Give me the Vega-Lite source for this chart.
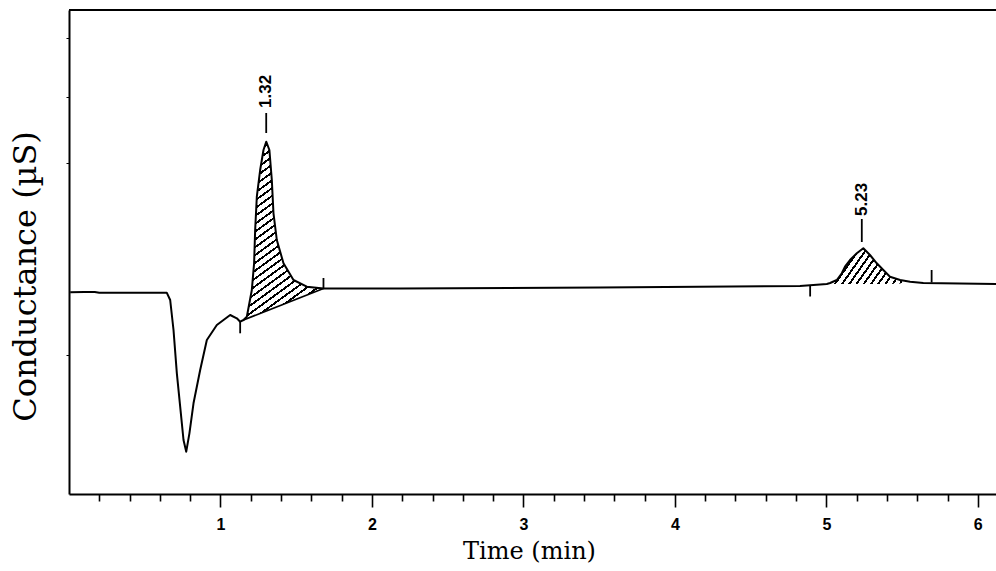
{
  "$schema": "https://vega.github.io/schema/vega-lite/v6.json",
  "width": 927,
  "height": 484,
  "autosize": "none",
  "padding": {"left": 69, "top": 10, "right": 0, "bottom": 77},
  "background": "white",
  "config": {"view": {"stroke": null}},
  "datasets": {
    "trace": [
      {"t": 0.008, "y": 20.17}, {"t": 0.10, "y": 20.2}, {"t": 0.17, "y": 20.2}, {"t": 0.20, "y": 20.12},
      {"t": 0.646, "y": 20.12}, {"t": 0.668, "y": 19.4}, {"t": 0.690, "y": 16.4}, {"t": 0.712, "y": 12.07},
      {"t": 0.734, "y": 8.73}, {"t": 0.756, "y": 5.4}, {"t": 0.774, "y": 4.23}, {"t": 0.795, "y": 6.07},
      {"t": 0.822, "y": 9.07}, {"t": 0.866, "y": 12.4}, {"t": 0.910, "y": 15.4}, {"t": 0.976, "y": 16.9},
      {"t": 1.064, "y": 17.9}, {"t": 1.108, "y": 17.57}, {"t": 1.130, "y": 17.23}, {"t": 1.152, "y": 17.4},
      {"t": 1.174, "y": 17.73}, {"t": 1.207, "y": 20.4}, {"t": 1.222, "y": 23.07}, {"t": 1.229, "y": 26.4},
      {"t": 1.240, "y": 29.73}, {"t": 1.262, "y": 32.4}, {"t": 1.284, "y": 34.4}, {"t": 1.302, "y": 35.23},
      {"t": 1.323, "y": 34.4}, {"t": 1.339, "y": 31.4}, {"t": 1.350, "y": 28.07}, {"t": 1.372, "y": 25.4},
      {"t": 1.416, "y": 23.07}, {"t": 1.482, "y": 21.4}, {"t": 1.570, "y": 20.73}, {"t": 1.680, "y": 20.55},
      {"t": 2.186, "y": 20.55}, {"t": 3.506, "y": 20.65}, {"t": 4.826, "y": 20.8}, {"t": 5.003, "y": 21.0},
      {"t": 5.025, "y": 21.1}, {"t": 5.069, "y": 21.4}, {"t": 5.102, "y": 22.07}, {"t": 5.123, "y": 22.73},
      {"t": 5.156, "y": 23.4}, {"t": 5.201, "y": 24.07}, {"t": 5.244, "y": 24.57}, {"t": 5.288, "y": 23.9},
      {"t": 5.333, "y": 23.07}, {"t": 5.376, "y": 22.4}, {"t": 5.420, "y": 21.73}, {"t": 5.487, "y": 21.4},
      {"t": 5.553, "y": 21.23}, {"t": 5.640, "y": 21.1}, {"t": 6.12, "y": 21.0}
    ],
    "peak1": [
      {"t": 1.152, "y": 17.4, "base": 17.4}, {"t": 1.174, "y": 17.73, "base": 17.53},
      {"t": 1.207, "y": 20.4, "base": 17.73}, {"t": 1.222, "y": 23.07, "base": 17.82},
      {"t": 1.229, "y": 26.4, "base": 17.86}, {"t": 1.240, "y": 29.73, "base": 17.93},
      {"t": 1.262, "y": 32.4, "base": 18.06}, {"t": 1.284, "y": 34.4, "base": 18.19},
      {"t": 1.302, "y": 35.23, "base": 18.29}, {"t": 1.323, "y": 34.4, "base": 18.42},
      {"t": 1.339, "y": 31.4, "base": 18.52}, {"t": 1.350, "y": 28.07, "base": 18.58},
      {"t": 1.372, "y": 25.4, "base": 18.71}, {"t": 1.416, "y": 23.07, "base": 18.97},
      {"t": 1.482, "y": 21.4, "base": 19.37}, {"t": 1.570, "y": 20.73, "base": 19.89},
      {"t": 1.680, "y": 20.55, "base": 20.55}
    ],
    "peak2": [
      {"t": 5.003, "y": 21.0, "base": 21.0}, {"t": 5.025, "y": 21.1, "base": 21.0},
      {"t": 5.069, "y": 21.4, "base": 21.0}, {"t": 5.102, "y": 22.07, "base": 21.0},
      {"t": 5.123, "y": 22.73, "base": 21.0}, {"t": 5.156, "y": 23.4, "base": 21.0},
      {"t": 5.201, "y": 24.07, "base": 21.0}, {"t": 5.244, "y": 24.57, "base": 21.0},
      {"t": 5.288, "y": 23.9, "base": 21.0}, {"t": 5.333, "y": 23.07, "base": 21.0},
      {"t": 5.376, "y": 22.4, "base": 21.0}, {"t": 5.420, "y": 21.73, "base": 21.0},
      {"t": 5.487, "y": 21.4, "base": 21.05}, {"t": 5.50, "y": 21.35, "base": 21.1}
    ],
    "segments": [
      {"x1": 1.152, "y1": 17.4, "x2": 1.680, "y2": 20.55},
      {"x1": 1.130, "y1": 17.23, "x2": 1.130, "y2": 16.07},
      {"x1": 1.680, "y1": 20.55, "x2": 1.680, "y2": 21.6},
      {"x1": 4.893, "y1": 20.85, "x2": 4.893, "y2": 19.75},
      {"x1": 5.695, "y1": 21.15, "x2": 5.695, "y2": 22.4},
      {"x1": 1.302, "y1": 36.1, "x2": 1.302, "y2": 38.1},
      {"x1": 5.234, "y1": 25.2, "x2": 5.234, "y2": 27.5}
    ],
    "labels": [
      {"t": 1.302, "y": 38.6, "label": "1.32"},
      {"t": 5.234, "y": 27.8, "label": "5.23"}
    ]
  },
  "layer": [
    {
      "data": {"name": "peak1"},
      "mark": {
        "type": "area",
        "strokeWidth": 0,
        "fill": {
          "gradient": "linear", "x1": 0, "y1": 0, "x2": 0.391, "y2": 1.199,
          "stops": [
            {"offset": 0, "color": "white"},
            {"offset": 0.015, "color": "white"}, {"offset": 0.015, "color": "black"}, {"offset": 0.025, "color": "black"}, {"offset": 0.025, "color": "white"},
            {"offset": 0.048, "color": "white"}, {"offset": 0.048, "color": "black"}, {"offset": 0.058, "color": "black"}, {"offset": 0.058, "color": "white"},
            {"offset": 0.081, "color": "white"}, {"offset": 0.081, "color": "black"}, {"offset": 0.091, "color": "black"}, {"offset": 0.091, "color": "white"},
            {"offset": 0.114, "color": "white"}, {"offset": 0.114, "color": "black"}, {"offset": 0.124, "color": "black"}, {"offset": 0.124, "color": "white"},
            {"offset": 0.147, "color": "white"}, {"offset": 0.147, "color": "black"}, {"offset": 0.157, "color": "black"}, {"offset": 0.157, "color": "white"},
            {"offset": 0.180, "color": "white"}, {"offset": 0.180, "color": "black"}, {"offset": 0.190, "color": "black"}, {"offset": 0.190, "color": "white"},
            {"offset": 0.213, "color": "white"}, {"offset": 0.213, "color": "black"}, {"offset": 0.223, "color": "black"}, {"offset": 0.223, "color": "white"},
            {"offset": 0.246, "color": "white"}, {"offset": 0.246, "color": "black"}, {"offset": 0.256, "color": "black"}, {"offset": 0.256, "color": "white"},
            {"offset": 0.279, "color": "white"}, {"offset": 0.279, "color": "black"}, {"offset": 0.289, "color": "black"}, {"offset": 0.289, "color": "white"},
            {"offset": 0.312, "color": "white"}, {"offset": 0.312, "color": "black"}, {"offset": 0.322, "color": "black"}, {"offset": 0.322, "color": "white"},
            {"offset": 0.345, "color": "white"}, {"offset": 0.345, "color": "black"}, {"offset": 0.355, "color": "black"}, {"offset": 0.355, "color": "white"},
            {"offset": 0.378, "color": "white"}, {"offset": 0.378, "color": "black"}, {"offset": 0.388, "color": "black"}, {"offset": 0.388, "color": "white"},
            {"offset": 0.411, "color": "white"}, {"offset": 0.411, "color": "black"}, {"offset": 0.421, "color": "black"}, {"offset": 0.421, "color": "white"},
            {"offset": 0.444, "color": "white"}, {"offset": 0.444, "color": "black"}, {"offset": 0.454, "color": "black"}, {"offset": 0.454, "color": "white"},
            {"offset": 0.477, "color": "white"}, {"offset": 0.477, "color": "black"}, {"offset": 0.487, "color": "black"}, {"offset": 0.487, "color": "white"},
            {"offset": 0.510, "color": "white"}, {"offset": 0.510, "color": "black"}, {"offset": 0.520, "color": "black"}, {"offset": 0.520, "color": "white"},
            {"offset": 0.543, "color": "white"}, {"offset": 0.543, "color": "black"}, {"offset": 0.553, "color": "black"}, {"offset": 0.553, "color": "white"},
            {"offset": 0.576, "color": "white"}, {"offset": 0.576, "color": "black"}, {"offset": 0.586, "color": "black"}, {"offset": 0.586, "color": "white"},
            {"offset": 0.609, "color": "white"}, {"offset": 0.609, "color": "black"}, {"offset": 0.619, "color": "black"}, {"offset": 0.619, "color": "white"},
            {"offset": 0.642, "color": "white"}, {"offset": 0.642, "color": "black"}, {"offset": 0.652, "color": "black"}, {"offset": 0.652, "color": "white"},
            {"offset": 0.675, "color": "white"}, {"offset": 0.675, "color": "black"}, {"offset": 0.685, "color": "black"}, {"offset": 0.685, "color": "white"},
            {"offset": 0.708, "color": "white"}, {"offset": 0.708, "color": "black"}, {"offset": 0.718, "color": "black"}, {"offset": 0.718, "color": "white"},
            {"offset": 0.741, "color": "white"}, {"offset": 0.741, "color": "black"}, {"offset": 0.751, "color": "black"}, {"offset": 0.751, "color": "white"},
            {"offset": 0.774, "color": "white"}, {"offset": 0.774, "color": "black"}, {"offset": 0.784, "color": "black"}, {"offset": 0.784, "color": "white"},
            {"offset": 0.807, "color": "white"}, {"offset": 0.807, "color": "black"}, {"offset": 0.817, "color": "black"}, {"offset": 0.817, "color": "white"},
            {"offset": 0.840, "color": "white"}, {"offset": 0.840, "color": "black"}, {"offset": 0.850, "color": "black"}, {"offset": 0.850, "color": "white"},
            {"offset": 0.873, "color": "white"}, {"offset": 0.873, "color": "black"}, {"offset": 0.883, "color": "black"}, {"offset": 0.883, "color": "white"},
            {"offset": 0.906, "color": "white"}, {"offset": 0.906, "color": "black"}, {"offset": 0.916, "color": "black"}, {"offset": 0.916, "color": "white"},
            {"offset": 0.939, "color": "white"}, {"offset": 0.939, "color": "black"}, {"offset": 0.949, "color": "black"}, {"offset": 0.949, "color": "white"},
            {"offset": 0.972, "color": "white"}, {"offset": 0.972, "color": "black"}, {"offset": 0.982, "color": "black"}, {"offset": 0.982, "color": "white"},
            {"offset": 1, "color": "white"}
          ]
        }
      },
      "encoding": {
        "x": {"field": "t", "type": "quantitative", "scale": {"domain": [0, 6.12], "nice": false, "zero": false},
          "axis": {
            "values": [0.2,0.4,0.6,0.8,1,1.2,1.4,1.6,1.8,2,2.2,2.4,2.6,2.8,3,3.2,3.4,3.6,3.8,4,4.2,4.4,4.6,4.8,5,5.2,5.4,5.6,5.8,6],
            "tickCount": 60,
            "labelExpr": "abs(datum.value - round(datum.value)) < 0.001 ? format(datum.value, 'd') : ''",
            "tickSize": {"condition": {"test": "abs(datum.value - round(datum.value)) < 0.001", "value": 13}, "value": 7},
            "tickColor": "black", "tickWidth": 1.6,
            "domainColor": "black", "domainWidth": 2,
            "grid": false, "labelOverlap": false, "labelFlush": false,
            "labelFont": "Liberation Sans", "labelFontWeight": "bold", "labelFontSize": 16, "labelColor": "black",
            "labelPadding": 9,
            "title": "Time (min)", "titleFont": "DejaVu Serif", "titleFontWeight": "normal", "titleFontSize": 24,
            "titleColor": "black", "titleX": 460, "titleY": 64, "titleBaseline": "alphabetic", "titleAlign": "center"
          }
        },
        "y": {"field": "y", "type": "quantitative", "scale": {"domain": [0, 48.4], "nice": false, "zero": false},
          "axis": {
            "values": [13.9, 33.1, 39.7, 45.6],
            "labels": false, "tickSize": 3, "tickColor": "black", "tickWidth": 1,
            "domainColor": "black", "domainWidth": 2, "grid": false,
            "title": "Conductance (µS)", "titleFont": "DejaVu Serif", "titleFontWeight": "normal", "titleFontSize": 32,
            "titleColor": "black", "titleX": -44, "titleY": 266, "titleAngle": 270, "titleBaseline": "middle", "titleAlign": "center"
          }
        },
        "y2": {"field": "base"}
      }
    },
    {
      "data": {"name": "peak2"},
      "mark": {
        "type": "area",
        "strokeWidth": 0,
        "fill": {
          "gradient": "linear", "x1": 0, "y1": 0, "x2": 1.2, "y2": 0.4,
          "stops": [
            {"offset": 0, "color": "white"},
            {"offset": 0.030, "color": "white"}, {"offset": 0.030, "color": "black"}, {"offset": 0.054, "color": "black"}, {"offset": 0.054, "color": "white"},
            {"offset": 0.102, "color": "white"}, {"offset": 0.102, "color": "black"}, {"offset": 0.126, "color": "black"}, {"offset": 0.126, "color": "white"},
            {"offset": 0.174, "color": "white"}, {"offset": 0.174, "color": "black"}, {"offset": 0.198, "color": "black"}, {"offset": 0.198, "color": "white"},
            {"offset": 0.246, "color": "white"}, {"offset": 0.246, "color": "black"}, {"offset": 0.270, "color": "black"}, {"offset": 0.270, "color": "white"},
            {"offset": 0.318, "color": "white"}, {"offset": 0.318, "color": "black"}, {"offset": 0.342, "color": "black"}, {"offset": 0.342, "color": "white"},
            {"offset": 0.390, "color": "white"}, {"offset": 0.390, "color": "black"}, {"offset": 0.414, "color": "black"}, {"offset": 0.414, "color": "white"},
            {"offset": 0.462, "color": "white"}, {"offset": 0.462, "color": "black"}, {"offset": 0.486, "color": "black"}, {"offset": 0.486, "color": "white"},
            {"offset": 0.534, "color": "white"}, {"offset": 0.534, "color": "black"}, {"offset": 0.558, "color": "black"}, {"offset": 0.558, "color": "white"},
            {"offset": 0.606, "color": "white"}, {"offset": 0.606, "color": "black"}, {"offset": 0.630, "color": "black"}, {"offset": 0.630, "color": "white"},
            {"offset": 0.678, "color": "white"}, {"offset": 0.678, "color": "black"}, {"offset": 0.702, "color": "black"}, {"offset": 0.702, "color": "white"},
            {"offset": 0.750, "color": "white"}, {"offset": 0.750, "color": "black"}, {"offset": 0.774, "color": "black"}, {"offset": 0.774, "color": "white"},
            {"offset": 0.822, "color": "white"}, {"offset": 0.822, "color": "black"}, {"offset": 0.846, "color": "black"}, {"offset": 0.846, "color": "white"},
            {"offset": 0.894, "color": "white"}, {"offset": 0.894, "color": "black"}, {"offset": 0.918, "color": "black"}, {"offset": 0.918, "color": "white"},
            {"offset": 0.966, "color": "white"}, {"offset": 0.966, "color": "black"}, {"offset": 0.990, "color": "black"}, {"offset": 0.990, "color": "white"},
            {"offset": 1, "color": "white"}
          ]
        }
      },
      "encoding": {
        "x": {"field": "t", "type": "quantitative"},
        "y": {"field": "y", "type": "quantitative"},
        "y2": {"field": "base"}
      }
    },
    {
      "data": {"name": "trace"},
      "mark": {"type": "line", "color": "black", "strokeWidth": 2, "strokeJoin": "round"},
      "encoding": {
        "x": {"field": "t", "type": "quantitative"},
        "y": {"field": "y", "type": "quantitative"}
      }
    },
    {
      "data": {"name": "segments"},
      "mark": {"type": "rule", "color": "black", "strokeWidth": 1.8},
      "encoding": {
        "x": {"field": "x1", "type": "quantitative"},
        "y": {"field": "y1", "type": "quantitative"},
        "x2": {"field": "x2"},
        "y2": {"field": "y2"}
      }
    },
    {
      "data": {"name": "labels"},
      "mark": {"type": "text", "angle": 270, "align": "left", "baseline": "middle", "font": "Liberation Sans", "fontSize": 17, "fontWeight": "bold", "color": "black", "dx": 0},
      "encoding": {
        "x": {"field": "t", "type": "quantitative"},
        "y": {"field": "y", "type": "quantitative"},
        "text": {"field": "label"}
      }
    },
    {
      "data": {"values": [{"top": 48.4}]},
      "mark": {"type": "rule", "color": "black", "strokeWidth": 2},
      "encoding": {
        "y": {"field": "top", "type": "quantitative"}
      }
    }
  ]
}
